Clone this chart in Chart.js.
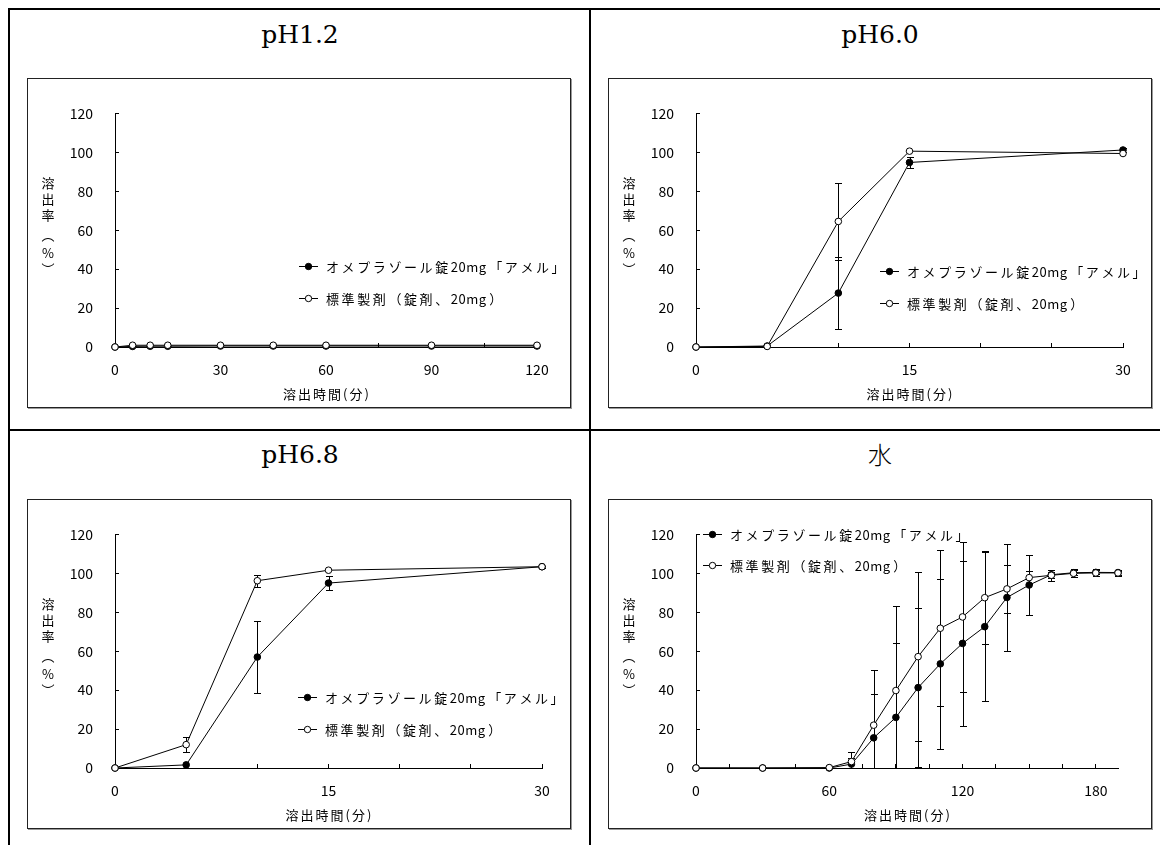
<!DOCTYPE html>
<html><head><meta charset="utf-8">
<script src="https://cdn.jsdelivr.net/npm/chart.js@4.4.1/dist/chart.umd.min.js"></script>
<style>
body{margin:0;background:#fff;width:1160px;height:845px;position:relative;overflow:hidden;}
.ln{position:absolute;background:#000;}
.ttl{position:absolute;width:300px;margin-left:-150px;text-align:center;font-family:'DejaVu Serif',serif;font-size:25px;line-height:30px;color:#000;}
.ttl.jp{font-family:'Noto Sans CJK JP',sans-serif;font-weight:300;font-size:24px;}
.box{position:absolute;width:544px;height:330px;box-sizing:border-box;border:1px solid #222;box-shadow:1px 1px 0 #9a9a9a;background:#fff;}
.box canvas{position:absolute;left:0;top:0;}
</style></head><body>
<div class="ln" style="left:8px;top:8px;width:1152px;height:2px"></div>
<div class="ln" style="left:8px;top:8px;width:2px;height:837px"></div>
<div class="ln" style="left:589px;top:8px;width:2px;height:837px"></div>
<div class="ln" style="left:8px;top:429px;width:1152px;height:2px"></div>
<div class="ttl" style="left:300px;top:20px">pH1.2</div>
<div class="ttl" style="left:880px;top:20px">pH6.0</div>
<div class="ttl" style="left:300px;top:440px">pH6.8</div>
<div class="ttl jp" style="left:880px;top:439px">水</div>
<div class="box" style="left:27px;top:78px"><canvas id="c1" width="542" height="328"></canvas></div>
<div class="box" style="left:608px;top:78px"><canvas id="c2" width="542" height="328"></canvas></div>
<div class="box" style="left:27px;top:499px"><canvas id="c3" width="542" height="328"></canvas></div>
<div class="box" style="left:608px;top:499px"><canvas id="c4" width="542" height="328"></canvas></div>
<script>
// ---- data ----
const seriesNames = ['オメプラゾール錠20mg「アメル」', '標準製剤（錠剤、20mg）'];
const xTitle = '溶出時間(分)';
const yTitle = '溶出率（%）';
const yTicks = [0, 20, 40, 60, 80, 100, 120];

const timePH12 = [0, 5, 10, 15, 30, 45, 60, 90, 120];
const testPH12 = [0, 0.3, 0.4, 0.4, 0.5, 0.5, 0.5, 0.5, 0.5];
const testPH12SD = [0, 0, 0, 0, 0, 0, 0, 0, 0];
const refPH12 = [0, 0.9, 0.9, 0.9, 0.9, 0.9, 0.9, 0.9, 0.9];
const refPH12SD = [0, 0, 0, 0, 0, 0, 0, 0, 0];

const timePH60 = [0, 5, 10, 15, 30];
const testPH60 = [0, 0.5, 27.7, 94.8, 101.2];
const testPH60SD = [0, 0, 18.5, 2.8, 0.8];
const refPH60 = [0, 0.3, 64.5, 100.6, 99.4];
const refPH60SD = [0, 0, 19.6, 0.5, 0.5];

const timePH68 = [0, 5, 10, 15, 30];
const testPH68 = [0, 1.6, 57.0, 95.0, 103.4];
const testPH68SD = [0, 0.3, 18.6, 3.4, 0.6];
const refPH68 = [0, 12.0, 96.2, 101.6, 103.4];
const refPH68SD = [0, 4.0, 3.0, 0.5, 0.5];

const timeWater = [0, 30, 60, 70, 80, 90, 100, 110, 120, 130, 140, 150, 160, 170, 180, 190];
const testWater = [0, 0, 0, 2.0, 15.5, 26.0, 41.3, 53.5, 64.0, 72.6, 87.6, 94.0, 99.3, 100.3, 100.5, 100.4];
const testWaterSD = [0, 0, 0, 3.0, 22.5, 38.3, 41.0, 43.6, 42.3, 38.3, 27.7, 15.2, 1.5, 1.2, 1.0, 1.0];
const refWater = [0, 0, 0.2, 3.3, 22.0, 39.8, 57.2, 71.8, 77.6, 87.5, 92.0, 97.8, 99.0, 100.0, 100.2, 100.2];
const refWaterSD = [0, 0, 0, 4.8, 28.5, 43.3, 43.5, 40.2, 38.7, 24.0, 12.5, 3.5, 2.8, 2.0, 1.8, 1.5];

// ---- drawing ----
const FONT = "'Noto Sans CJK JP', sans-serif";

function drawSpaced(ctx, text, x, y, wideSp) {
  // CJK characters get extra tracking, ASCII runs are set tight
  let cx = x;
  const runs = text.match(/[\x20-\x7e]+|[^\x20-\x7e]+/g) || [];
  runs.forEach(r => {
    const ascii = /^[\x20-\x7e]+$/.test(r);
    ctx.letterSpacing = ascii ? '0.5px' : wideSp + 'px';
    ctx.fillText(r, cx, y);
    cx += ctx.measureText(r).width + (ascii ? wideSp : 0);
  });
  ctx.letterSpacing = '0px';
}

const decor = {
  id: 'decor',
  beforeDatasetsDraw(chart, args, o) {
    const {ctx, chartArea: a, scales: {x, y}} = chart;
    ctx.save();
    ctx.beginPath();
    ctx.rect(a.left - 1, a.top - 4, a.right - a.left + 5, a.bottom - a.top + 4.5);
    ctx.clip();
    ctx.strokeStyle = '#000';
    ctx.lineWidth = 1;
    o.bars.forEach(b => {
      b.xs.forEach((xv, i) => {
        const sd = b.sd[i];
        if (!sd || sd < 0.6) return;
        const px = Math.round(x.getPixelForValue(xv)) + 0.5;
        const hi = Math.round(y.getPixelForValue(b.ys[i] + sd)) + 0.5;
        const lo = Math.round(y.getPixelForValue(b.ys[i] - sd)) + 0.5;
        ctx.beginPath();
        ctx.moveTo(px, hi); ctx.lineTo(px, lo);
        ctx.moveTo(px - 3.5, hi); ctx.lineTo(px + 3.5, hi);
        ctx.moveTo(px - 3.5, lo); ctx.lineTo(px + 3.5, lo);
        ctx.stroke();
      });
    });
    ctx.restore();
  },
  afterDraw(chart, args, o) {
    const {ctx, chartArea: a} = chart;
    ctx.save();
    ctx.fillStyle = '#000';
    ctx.font = '13px ' + FONT;
    // y title (vertical)
    const chars = Array.from(yTitle).map(c => c === '（' ? '︵' : c === '）' ? '︶' : c);
    const offs = [-47, -31, -15, 5, 23, 39];
    const cy = (a.top + a.bottom) / 2;
    ctx.textAlign = 'center';
    ctx.textBaseline = 'middle';
    chars.forEach((c, i) => ctx.fillText(c, a.left - 67, cy + offs[i]));
    // x title
    ctx.letterSpacing = '2px';
    ctx.fillText(xTitle, (a.left + a.right) / 2 + 1, a.bottom + 47);
    ctx.letterSpacing = '0px';
    // legend
    ctx.textAlign = 'left';
    const lg = o.legend;
    [true, false].forEach((filled, i) => {
      const yy = Math.round(a.top + lg.dy + i * lg.gap) + 0.5;
      const x0 = a.left + lg.dx;
      ctx.strokeStyle = '#000';
      ctx.lineWidth = 1;
      ctx.beginPath(); ctx.moveTo(x0, yy); ctx.lineTo(x0 + 19, yy); ctx.stroke();
      ctx.beginPath(); ctx.arc(x0 + 9.5, yy, 3.2, 0, Math.PI * 2);
      ctx.fillStyle = filled ? '#000' : '#fff';
      ctx.fill(); ctx.stroke();
      ctx.fillStyle = '#000';
      drawSpaced(ctx, seriesNames[i], x0 + 27, yy + 0.5, 2.6);
    });
    ctx.restore();
  }
};

function makeChart(id, xs, test, testSD, ref, refSD, xMax, xStep, xLabelEvery, padTop, padRight, legend) {
  const pts = arr => xs.map((xv, i) => ({x: xv, y: arr[i]}));
  new Chart(document.getElementById(id), {
    type: 'line',
    data: {
      datasets: [
        {label: seriesNames[1], data: pts(ref), borderColor: '#000', borderWidth: 1, backgroundColor: '#fff',
         pointRadius: 3.3, pointBorderWidth: 1, pointBackgroundColor: '#fff', pointBorderColor: '#000', tension: 0, clip: false},
        {label: seriesNames[0], data: pts(test), borderColor: '#000', borderWidth: 1, backgroundColor: '#000',
         pointRadius: 3.3, pointBorderWidth: 1, pointBackgroundColor: '#000', pointBorderColor: '#000', tension: 0, clip: false}
      ]
    },
    options: {
      responsive: false, animation: false, devicePixelRatio: 1,
      layout: {padding: {top: padTop, right: padRight, bottom: 0, left: 0}},
      plugins: {legend: {display: false}, tooltip: {enabled: false},
        decor: {legend, bars: [{xs, ys: test, sd: testSD}, {xs, ys: ref, sd: refSD}]}},
      scales: {
        x: {type: 'linear', min: 0, max: xMax,
          border: {color: '#000', width: 1},
          grid: {drawOnChartArea: false, drawTicks: true, tickLength: -4, color: '#000', tickColor: '#000'},
          ticks: {stepSize: xStep, includeBounds: false, autoSkip: false, maxRotation: 0, padding: 18, color: '#000',
            font: {family: FONT, size: 14},
            callback: v => (v % xLabelEvery === 0 ? String(v) : '')},
          afterFit: s => { s.height = 60; }
        },
        y: {type: 'linear', min: 0, max: 120,
          border: {color: '#000', width: 1},
          grid: {drawOnChartArea: false, drawTicks: true, tickLength: -4, color: '#000', tickColor: '#000'},
          afterBuildTicks: s => { s.ticks = yTicks.map(v => ({value: v})); },
          ticks: {padding: 26, color: '#000', font: {family: FONT, size: 14}},
          afterFit: s => { s.width = 87; }
        }
      }
    },
    plugins: [decor]
  });
}

makeChart('c1', timePH12, testPH12, testPH12SD, refPH12, refPH12SD, 120, 15, 30, 31, 33, {dx: 184, dy: 153, gap: 32});
makeChart('c2', timePH60, testPH60, testPH60SD, refPH60, refPH60SD, 30, 5, 15, 31, 28, {dx: 184, dy: 158, gap: 32});
makeChart('c3', timePH68, testPH68, testPH68SD, refPH68, refPH68SD, 30, 5, 15, 32, 28, {dx: 183, dy: 163, gap: 32});
makeChart('c4', timeWater, testWater, testWaterSD, refWater, refWaterSD, 190, 15, 60, 32, 33, {dx: 7, dy: 0, gap: 31});
</script>
</body></html>
